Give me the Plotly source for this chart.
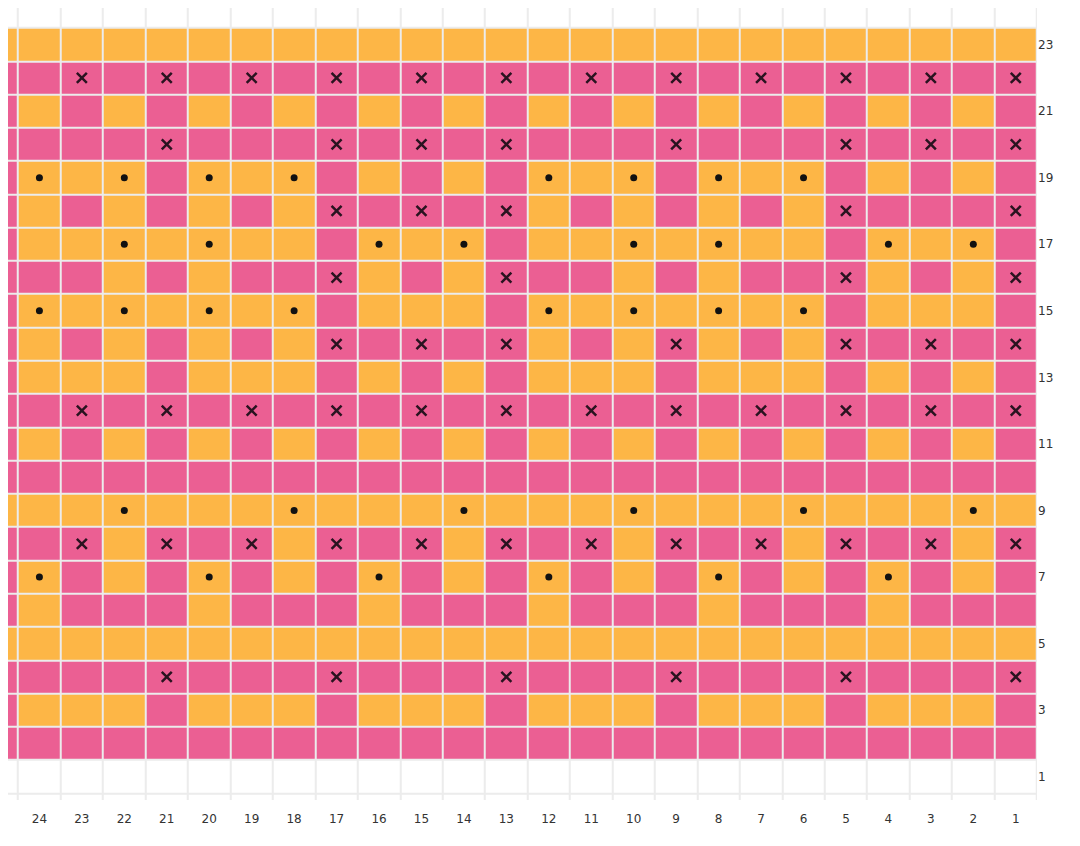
import plotly.graph_objects as go

# chart rows, top (row 23) to bottom (row 2); each string runs col 25 -> col 1
# P = pink, O = orange, X = pink with cross, D = orange with dot
rows = {
    23: "OOOOOOOOOOOOOOOOOOOOOOOOO",
    22: "XPXPXPXPXPXPXPXPXPXPXPXPX",
    21: "POPOPOPOPOPOPOPOPOPOPOPOP",
    20: "PPPPXPPPXPXPXPPPXPPPXPXPX",
    19: "PDODPDODPOPOPDODPDODPOPOP",
    18: "XOPOPOPOXPXPXOPOPOPOXPPPX",
    17: "POODODOOPDODPOODODOOPDODP",
    16: "XPPOPOPPXOPOXPPOPOPPXOPOX",
    15: "PDODODODPOOOPDODODODPOOOP",
    14: "XOPOPOPOXPXPXOPOXOPOXPXPX",
    13: "POOOPOOOPOPOPOOOPOOOPOPOP",
    12: "XPXPXPXPXPXPXPXPXPXPXPXPX",
    11: "POPOPOPOPOPOPOPOPOPOPOPOP",
    10: "PPPPPPPPPPPPPPPPPPPPPPPPP",
    9:  "OOODOOODOOODOOODOOODOOODO",
    8:  "XPXOXPXOXPXOXPXOXPXOXPXOX",
    7:  "PDPOPDPOPDPOPDPOPDPOPDPOP",
    6:  "POPPPOPPPOPPPOPPPOPPPOPPP",
    5:  "OOOOOOOOOOOOOOOOOOOOOOOOO",
    4:  "XPPPXPPPXPPPXPPPXPPPXPPPX",
    3:  "POOOPOOOPOOOPOOOPOOOPOOOP",
    2:  "PPPPPPPPPPPPPPPPPPPPPPPPP",
}
n_cols = 25
n_rows = 24
col_labels = list(range(1, 25))
row_labels = list(range(1, 24, 2))

PINK = "#eb5f93"
ORANGE = "#fdb646"

cols = list(range(n_cols, 0, -1))
z = []
for r in range(0, n_rows + 1):
    s = rows.get(r)
    if s is None:
        z.append([0] * n_cols)
    else:
        z.append([2 if ch in "OD" else 1 for ch in reversed(s)])

cross_x, cross_y, dot_x, dot_y = [], [], [], []
for r, s in rows.items():
    for c, ch in zip(cols, s):
        if ch == "X":
            cross_x.append(c); cross_y.append(r)
        elif ch == "D":
            dot_x.append(c); dot_y.append(r)

fig = go.Figure()
fig.add_trace(go.Heatmap(
    x=list(range(1, n_cols + 1)), y=list(range(0, n_rows + 1)), z=z,
    zmin=0, zmax=2, showscale=False, xgap=2, ygap=2, hoverinfo="skip",
    colorscale=[[0, "white"], [0.33, "white"], [0.34, PINK], [0.66, PINK],
                [0.67, ORANGE], [1, ORANGE]],
))
fig.add_trace(go.Scatter(
    x=cross_x, y=cross_y, mode="markers", hoverinfo="skip",
    marker=dict(symbol="x-thin-open", size=10, color="#2a1320",
                line=dict(width=2.5, color="#2a1320")),
))
fig.add_trace(go.Scatter(
    x=dot_x, y=dot_y, mode="markers", hoverinfo="skip",
    marker=dict(symbol="circle", size=7, color="#111"),
))

fig.update_layout(
    width=1080, height=846, showlegend=False,
    margin=dict(l=0, r=51, t=0, b=54),
    paper_bgcolor="white", plot_bgcolor="#ececec",
    font=dict(family="DejaVu Sans", size=12, color="#333"),
)
fig.update_xaxes(range=[24.74, 0.5], tickvals=col_labels, showgrid=False,
                 zeroline=False, ticks="outside", ticklen=8, tickcolor="white")
fig.update_yaxes(range=[0.3, 24.1], tickvals=row_labels, side="right",
                 showgrid=False, zeroline=False, ticks="")

fig.write_html("out.html")
